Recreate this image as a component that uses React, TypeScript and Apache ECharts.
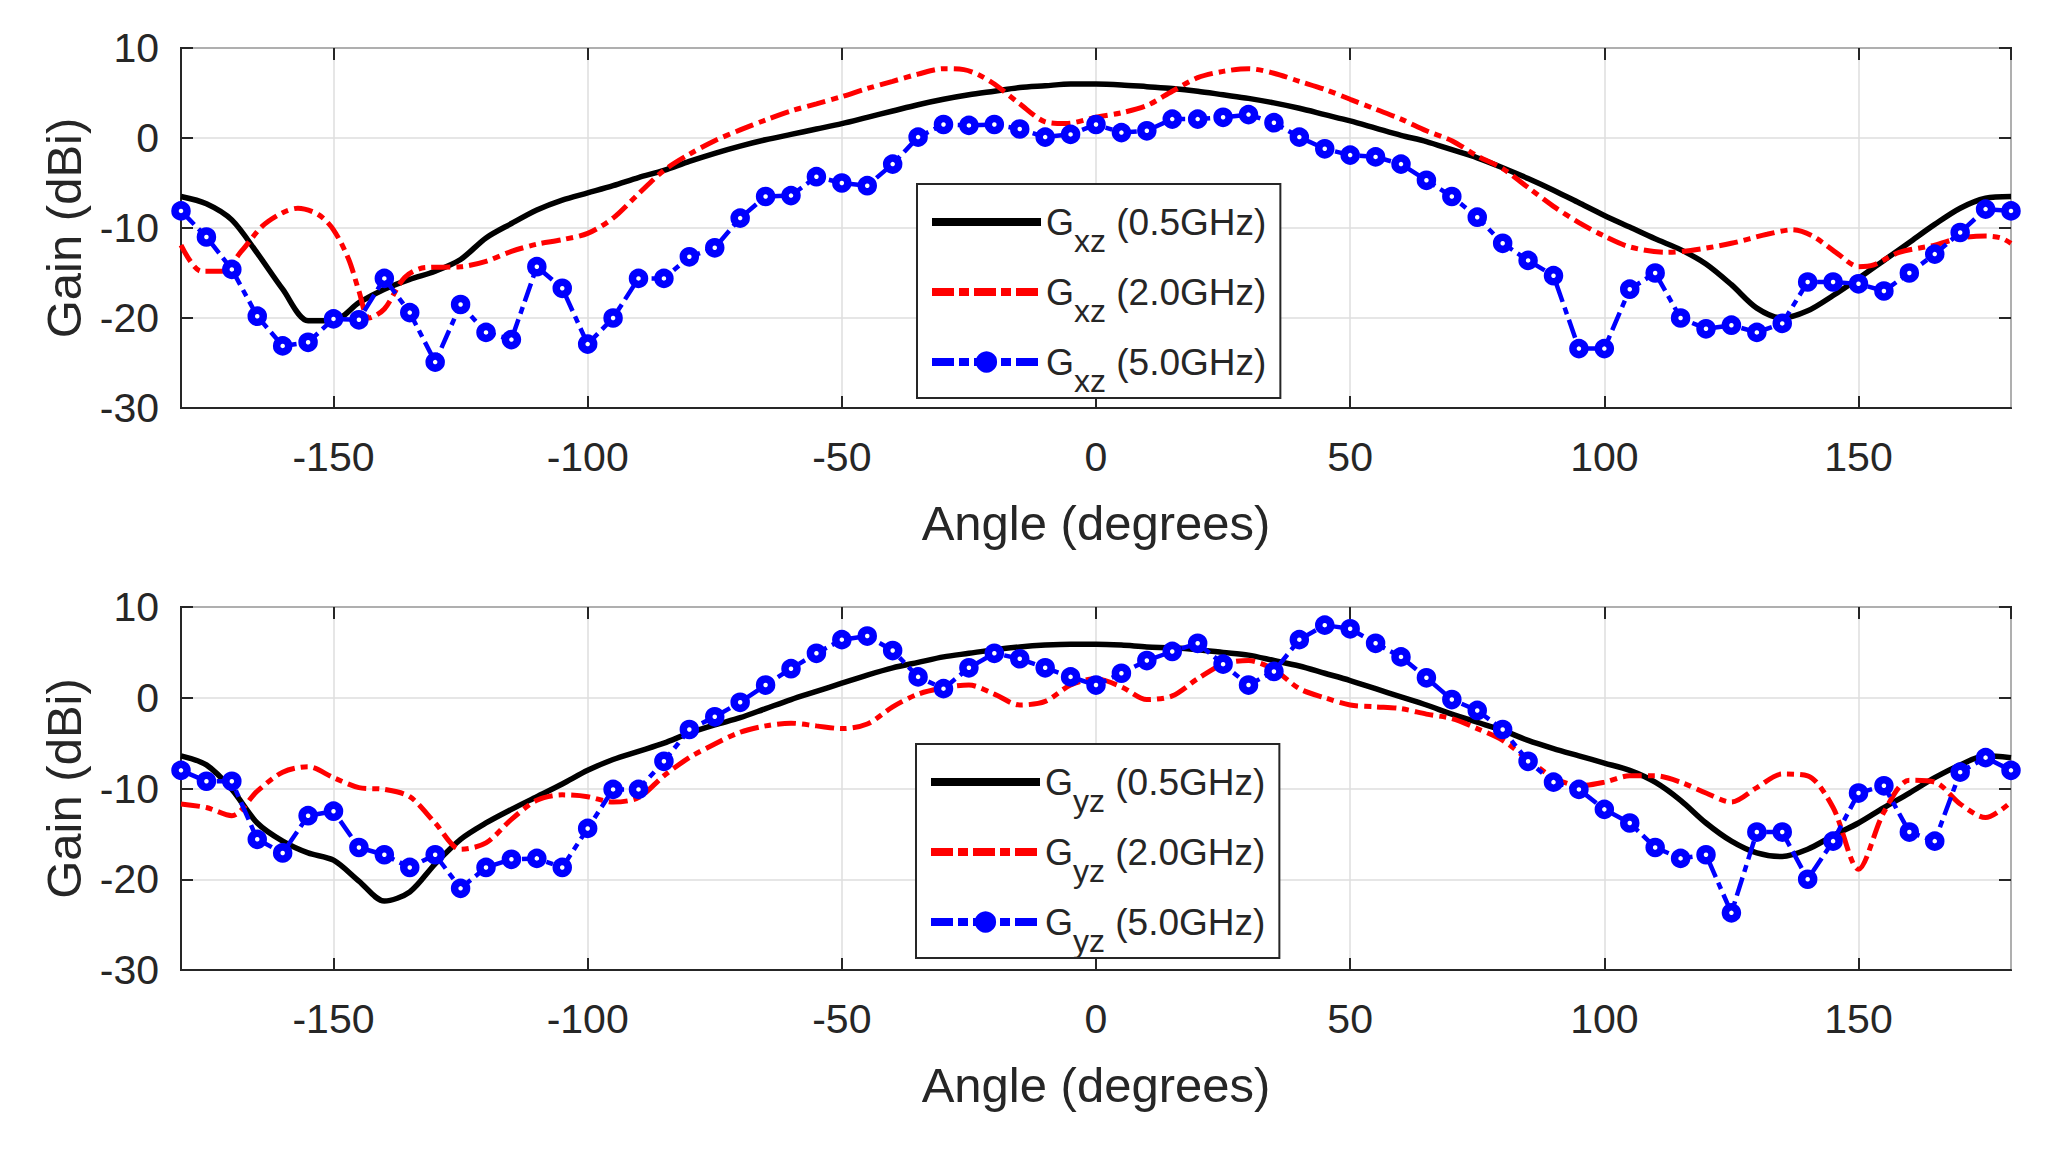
import React, { useEffect, useRef } from "react";
import * as echarts from "echarts";

// ---------- data ----------
const ANGLES = [
  -180, -175, -170, -165, -160, -155, -150, -145, -140, -135, -130, -125, -120,
  -115, -110, -105, -100, -95, -90, -85, -80, -75, -70, -65, -60, -55, -50, -45,
  -40, -35, -30, -25, -20, -15, -10, -5, 0, 5, 10, 15, 20, 25, 30, 35, 40, 45, 50,
  55, 60, 65, 70, 75, 80, 85, 90, 95, 100, 105, 110, 115, 120, 125, 130, 135,
  140, 145, 150, 155, 160, 165, 170, 175, 180,
];

// G_xz (top panel)
const GXZ_05 = [
  -6.5, -7.3, -9.1, -12.8, -16.8, -20.3, -20.3, -18.3, -16.8, -15.7, -14.8, -13.5, -11.1,
  -9.5, -8.0, -6.9, -6.1, -5.3, -4.4, -3.6, -2.6, -1.7, -0.9, -0.2, 0.4, 1.0, 1.6, 2.3,
  3.0, 3.7, 4.3, 4.8, 5.2, 5.6, 5.8, 6.0, 6.0, 5.9, 5.7, 5.5, 5.2, 4.8, 4.4, 3.9, 3.3, 2.6, 1.9,
  1.1, 0.3, -0.4, -1.3, -2.2, -3.3, -4.5, -5.8, -7.2, -8.6, -9.9, -11.2, -12.4, -14.0, -16.3, -18.9, -20.0,
  -19.2, -17.5, -15.6, -13.6, -11.6, -9.6, -7.8, -6.7, -6.5,
];
const GXZ_20_ANGLES = [
  -180, -176, -172, -168, -164, -160, -157, -153, -150, -147, -145, -143, -140, -136, -132,
  -125, -120, -115, -110, -105, -100, -95, -90, -85, -80, -75, -70, -65, -60, -55, -50, -45,
  -40, -35, -30, -26, -23, -20, -15, -10, -6, 0, 5, 10, 15, 20, 25, 30, 35, 40, 45, 50, 55,
  60, 65, 70, 75, 80, 85, 90, 95, 100, 105, 112, 117, 125, 132, 137, 141, 146, 150, 153,
  158, 165, 170, 175, 178, 180,
];
const GXZ_20 = [
  -11.9, -14.8, -14.8, -12.5, -9.8, -8.3, -7.8, -8.5, -10.2, -13.5, -17.0, -20.0, -19.0, -15.5, -14.4,
  -14.3, -13.7, -12.6, -11.8, -11.3, -10.6, -8.9, -6.2, -3.6, -1.8, -0.3, 0.9, 2.0, 3.0, 3.8, 4.6, 5.5,
  6.3, 7.1, 7.7, 7.6, 7.0, 6.0, 3.8, 1.8, 1.6, 2.3, 2.8, 3.6, 5.2, 6.7, 7.4, 7.7, 7.2, 6.3, 5.4, 4.3, 3.2,
  2.1, 0.8, -0.3, -2.0, -3.4, -5.5, -7.6, -9.4, -10.9, -12.1, -12.7, -12.5, -11.7, -10.7, -10.2, -10.9, -12.9, -14.3, -14.1,
  -12.7, -11.9, -11.1, -10.9, -11.1, -11.7,
];
const GXZ_50 = [
  -8.1, -11.0, -14.6, -19.8, -23.1, -22.7, -20.1, -20.2, -15.6, -19.4, -24.9, -18.5, -21.6,
  -22.4, -14.3, -16.7, -22.9, -20.0, -15.6, -15.6, -13.2, -12.2, -8.9, -6.5, -6.4, -4.3, -5.0, -5.3,
  -2.9, 0.1, 1.5, 1.4, 1.5, 1.0, 0.1, 0.4, 1.5, 0.6, 0.8, 2.1, 2.1, 2.3, 2.6, 1.7, 0.1, -1.2, -1.9,
  -2.1, -2.9, -4.7, -6.5, -8.8, -11.7, -13.6, -15.3, -23.4, -23.4, -16.8, -15.0, -20.0, -21.2, -20.8, -21.6, -20.6,
  -16.0, -16.0, -16.2, -17.0, -15.0, -12.9, -10.5, -7.9, -8.1,
];

// G_yz (bottom panel)
const GYZ_05 = [
  -6.4, -7.4, -10.1, -13.8, -15.8, -17.1, -17.9, -20.2, -22.4, -21.4, -18.3, -15.6, -13.8,
  -12.3, -10.9, -9.5, -8.0, -6.8, -5.9, -5.0, -3.9, -3.0, -2.2, -1.2, -0.2, 0.7, 1.6, 2.5,
  3.3, 3.9, 4.5, 4.9, 5.3, 5.6, 5.8, 5.9, 5.9, 5.8, 5.6, 5.5, 5.3, 5.0, 4.7, 4.1, 3.5, 2.7, 1.9,
  1.0, 0.1, -0.8, -1.8, -2.7, -3.6, -4.7, -5.6, -6.4, -7.2, -8.0, -9.3, -11.3, -13.8, -15.8, -17.1, -17.5,
  -16.7, -15.2, -13.8, -12.1, -10.5, -8.8, -7.4, -6.4, -6.6,
];
const GYZ_20 = [
  -11.7, -12.1, -13.0, -10.3, -8.2, -7.6, -8.8, -9.9, -10.1, -10.9, -13.8, -16.7, -16.0,
  -13.4, -11.3, -10.7, -10.9, -11.5, -11.0, -8.6, -6.6, -5.1, -3.8, -3.1, -2.8, -3.1, -3.4, -2.9,
  -1.0, 0.4, 1.1, 1.4, 0.4, -0.8, -0.4, 1.4, 2.1, 1.2, -0.2, 0.2, 2.1, 3.7, 4.1, 3.1, 1.0, 0.0, -0.8,
  -1.0, -1.2, -1.8, -2.3, -3.4, -4.7, -6.8, -8.8, -9.7, -9.3, -8.6, -8.6, -9.3, -10.5, -11.5, -9.9, -8.4,
  -8.6, -12.1, -18.9, -12.6, -9.1, -9.3, -11.7, -13.2, -11.5,
];
const GYZ_50 = [
  -8.0, -9.2, -9.2, -15.6, -17.1, -13.0, -12.5, -16.5, -17.3, -18.7, -17.3, -21.0, -18.7,
  -17.8, -17.7, -18.7, -14.4, -10.1, -10.1, -7.0, -3.5, -2.1, -0.5, 1.4, 3.2, 4.9, 6.4, 6.8,
  5.2, 2.3, 1.0, 3.3, 4.9, 4.3, 3.3, 2.3, 1.4, 2.7, 4.1, 5.1, 6.0, 3.7, 1.4, 2.9, 6.4, 8.0, 7.6,
  6.0, 4.5, 2.2, -0.2, -1.4, -3.5, -7.0, -9.3, -10.1, -12.3, -13.8, -16.5, -17.7, -17.3, -23.7, -14.8, -14.8,
  -20.0, -15.8, -10.5, -9.7, -14.8, -15.8, -8.2, -6.6, -8.0,
];

const SERIES_NAMES = ["Gxz05", "Gxz20", "Gxz50", "Gyz05", "Gyz20", "Gyz50"];
const LEGEND_SUBS = ["xz", "xz", "xz", "yz", "yz", "yz"];
const LEGEND_FREQS = ["0.5GHz", "2.0GHz", "5.0GHz", "0.5GHz", "2.0GHz", "5.0GHz"];
const X_NAME = "Angle (degrees)";
const Y_NAME = "Gain (dBi)";

// ---------- styles ----------
const FONT = '"Liberation Sans", Arial, Helvetica, sans-serif';
const INK = "#262626";
const GRID_GRAY = "#dedede";
const DASH_DOT = [19, 6, 7, 6];
const LEGEND_DASH_DOT = [22, 5, 10, 5];

const zip = (xs: number[], ys: number[]) => xs.map((x, i) => [x, ys[i]]);

function buildOption() {
  const grids = [
    { left: 181, top: 48, width: 1830, height: 360 },
    { left: 181, top: 607, width: 1830, height: 363 },
  ].map((g) => ({
    ...g,
    show: true,
    borderColor: INK,
    borderWidth: 2,
    backgroundColor: "#ffffff",
    containLabel: false,
  }));

  const xAxes: any[] = [];
  const yAxes: any[] = [];
  [0, 1].forEach((gi) => {
    xAxes.push({
      gridIndex: gi,
      type: "value",
      min: -180,
      max: 180,
      splitNumber: 7,
      position: "bottom",
      name: X_NAME,
      nameLocation: "middle",
      nameGap: 90,
      nameTextStyle: { fontSize: 49, color: INK, fontFamily: FONT },
      axisLine: { show: true, onZero: false, lineStyle: { color: INK, width: 2 } },
      axisTick: { show: true, inside: true, length: 12, lineStyle: { color: INK, width: 2 } },
      axisLabel: {
        fontSize: 41,
        color: INK,
        fontFamily: FONT,
        margin: 28,
        showMinLabel: false,
        showMaxLabel: false,
      },
      splitLine: { show: true, lineStyle: { color: GRID_GRAY, width: 1.5 } },
    });
    yAxes.push({
      gridIndex: gi,
      type: "value",
      min: -30,
      max: 10,
      interval: 10,
      position: "left",
      name: Y_NAME,
      nameLocation: "middle",
      nameGap: 92,
      nameTextStyle: { fontSize: 49, color: INK, fontFamily: FONT },
      axisLine: { show: true, onZero: false, lineStyle: { color: INK, width: 2 } },
      axisTick: { show: true, inside: true, length: 12, lineStyle: { color: INK, width: 2 } },
      axisLabel: { fontSize: 41, color: INK, fontFamily: FONT, margin: 22 },
      splitLine: { show: true, lineStyle: { color: GRID_GRAY, width: 1.5 } },
    });
  });
  // mirrored ticks (top / right), MATLAB box style
  [0, 1].forEach((gi) => {
    xAxes.push({
      gridIndex: gi,
      type: "value",
      min: -180,
      max: 180,
      splitNumber: 7,
      position: "top",
      axisLine: { show: false, onZero: false },
      axisTick: { show: true, inside: true, length: 12, lineStyle: { color: INK, width: 2 } },
      axisLabel: { show: false },
      splitLine: { show: false },
    });
    yAxes.push({
      gridIndex: gi,
      type: "value",
      min: -30,
      max: 10,
      interval: 10,
      position: "right",
      axisLine: { show: false, onZero: false },
      axisTick: { show: true, inside: true, length: 12, lineStyle: { color: INK, width: 2 } },
      axisLabel: { show: false },
      splitLine: { show: false },
    });
  });

  const black = (name: string, gi: number, data: number[][]) => ({
    type: "line",
    name,
    xAxisIndex: gi,
    yAxisIndex: gi,
    data,
    symbol: "none",
    smooth: 0.3,
    lineStyle: { color: "#000000", width: 5.5 },
    itemStyle: { color: "#000000" },
  });
  const red = (name: string, gi: number, data: number[][]) => ({
    type: "line",
    name,
    xAxisIndex: gi,
    yAxisIndex: gi,
    data,
    symbol: "none",
    smooth: 0.3,
    lineStyle: { color: "#ff0000", width: 5, type: DASH_DOT },
    itemStyle: { color: "#ff0000" },
  });
  const blue = (name: string, gi: number, data: number[][]) => ({
    type: "line",
    name,
    xAxisIndex: gi,
    yAxisIndex: gi,
    data,
    symbol: "circle",
    symbolSize: 12,
    showSymbol: true,
    showAllSymbol: true,
    lineStyle: { color: "#0000ff", width: 4.5, type: DASH_DOT },
    itemStyle: { color: "#ffffff", borderColor: "#0000ff", borderWidth: 7.5 },
  });

  const series = [
    black(SERIES_NAMES[0], 0, zip(ANGLES, GXZ_05)),
    red(SERIES_NAMES[1], 0, zip(GXZ_20_ANGLES, GXZ_20)),
    blue(SERIES_NAMES[2], 0, zip(ANGLES, GXZ_50)),
    black(SERIES_NAMES[3], 1, zip(ANGLES, GYZ_05)),
    red(SERIES_NAMES[4], 1, zip(ANGLES, GYZ_20)),
    blue(SERIES_NAMES[5], 1, zip(ANGLES, GYZ_50)),
  ];

  const rich = {
    g: { fontSize: 36, fontFamily: FONT, color: INK, lineHeight: 50 },
    s: { fontSize: 32, fontFamily: FONT, color: INK, lineHeight: 50, padding: [38, 0, 0, 0] },
    t: { fontSize: 37, fontFamily: FONT, color: INK, lineHeight: 50 },
  };
  const formatter = (name: string) => {
    const i = SERIES_NAMES.indexOf(name);
    return `{g|G}{s|${LEGEND_SUBS[i]}}{t| (${LEGEND_FREQS[i]})}`;
  };
  const legendBase = {
    orient: "vertical",
    itemWidth: 109,
    itemHeight: 24,
    itemGap: 0,
    padding: [3, 14, 1, 11],
    backgroundColor: "#ffffff",
    borderColor: INK,
    borderWidth: 2,
    borderRadius: 0,
    selectedMode: false,
    formatter,
    textStyle: { color: INK, fontFamily: FONT, rich },
  };
  const hiddenMarker = { opacity: 0 };
  const legendItems = (a: string, b: string, c: string) => [
    { name: a, itemStyle: hiddenMarker, lineStyle: { width: 8 } },
    { name: b, itemStyle: hiddenMarker, lineStyle: { width: 8, type: LEGEND_DASH_DOT } },
    {
      name: c,
      itemStyle: { color: "#0000ff", borderColor: "#0000ff", borderWidth: 2 },
      lineStyle: { width: 8, type: LEGEND_DASH_DOT },
    },
  ];
  const legend = [
    {
      ...legendBase,
      left: 917,
      top: 184,
      data: legendItems(SERIES_NAMES[0], SERIES_NAMES[1], SERIES_NAMES[2]),
    },
    {
      ...legendBase,
      left: 916,
      top: 744,
      data: legendItems(SERIES_NAMES[3], SERIES_NAMES[4], SERIES_NAMES[5]),
    },
  ];

  return {
    animation: false,
    backgroundColor: "#ffffff",
    textStyle: { fontFamily: FONT },
    grid: grids,
    xAxis: xAxes,
    yAxis: yAxes,
    legend,
    series,
  };
}

export default function App() {
  const ref = useRef<HTMLDivElement>(null);
  useEffect(() => {
    if (!ref.current) return;
    const chart = echarts.init(ref.current, null, { renderer: "svg" });
    chart.setOption(buildOption() as any);
    return () => chart.dispose();
  }, []);
  return (
    <div
      ref={ref}
      style={{
        position: "absolute",
        left: 0,
        top: 0,
        width: 2055,
        height: 1153,
        background: "#ffffff",
      }}
    />
  );
}
